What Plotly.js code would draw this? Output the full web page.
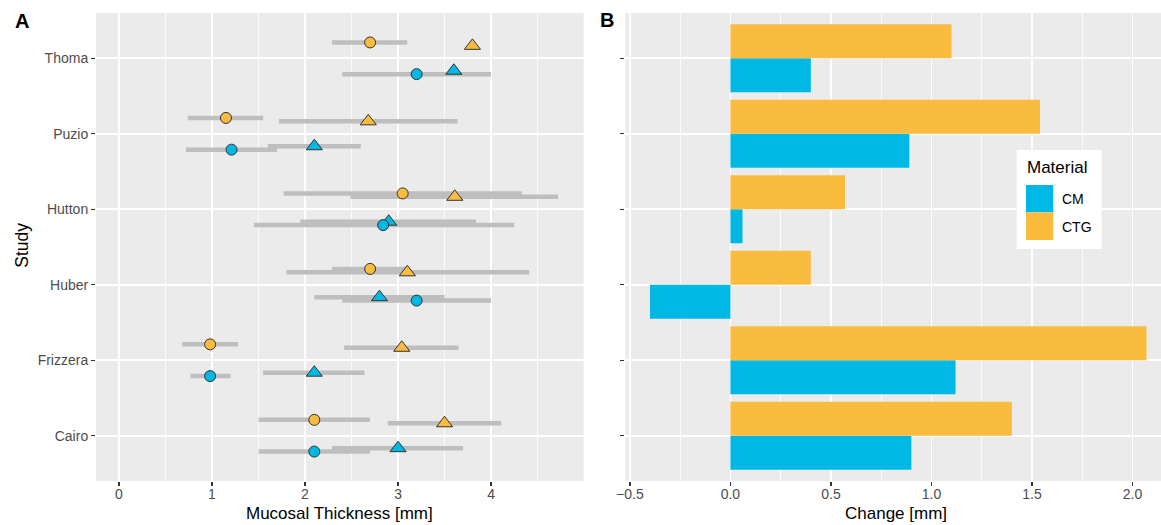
<!DOCTYPE html>
<html>
<head>
<meta charset="utf-8">
<script src="https://cdn.plot.ly/plotly-3.0.1.min.js"></script>
<style>html,body{margin:0;padding:0;background:#fff;}#chart{width:1161px;height:525px;}</style>
</head>
<body>
<div id="chart"></div>
<script>
// ---- data ----
const studies = ['Thoma', 'Puzio', 'Hutton', 'Huber', 'Frizzera', 'Cairo'];

// CTG, baseline (circles) and follow-up (triangles), with their interval ends
const ctgBase     = [2.70, 1.15, 3.05, 2.70, 0.98, 2.10];
const ctgBaseLo   = [2.29, 0.74, 1.77, 2.29, 0.68, 1.50];
const ctgBaseHi   = [3.10, 1.55, 4.33, 3.10, 1.28, 2.70];
const ctgFollow   = [3.80, 2.68, 3.61, 3.10, 3.04, 3.50];
const ctgFollowLo = [null, 1.72, 2.49, 1.80, 2.42, 2.89];
const ctgFollowHi = [null, 3.64, 4.72, 4.41, 3.65, 4.11];

// CM, baseline (circles) and follow-up (triangles)
const cmBase      = [3.20, 1.21, 2.84, 3.20, 0.98, 2.10];
const cmBaseLo    = [2.40, 0.72, 1.45, 2.40, 0.77, 1.50];
const cmBaseHi    = [4.00, 1.70, 4.25, 4.00, 1.20, 2.70];
const cmFollow    = [3.60, 2.10, 2.90, 2.80, 2.10, 3.00];
const cmFollowLo  = [null, 1.60, 1.95, 2.10, 1.55, 2.29];
const cmFollowHi  = [null, 2.60, 3.84, 3.50, 2.64, 3.70];

// Panel B: change [mm]
const changeCTG = [1.10, 1.54, 0.57, 0.40, 2.07, 1.40];
const changeCM  = [0.40, 0.89, 0.06, -0.40, 1.12, 0.90];

const materials = ['CM', 'CTG'];
const xTicksA = [0, 1, 2, 3, 4];

// ---- styling ----
const ORANGE = '#F9BC3F';
const BLUE = '#00B8E4';
const FONT = 'Liberation Sans, Arial, Helvetica, sans-serif';
const W = 1161, H = 525;
const px = v => v / W;
const py = v => 1 - v / H;

const yPos = studies.map((s, i) => studies.length - i);

function errTrace(mean, lo, hi, off) {
  return {
    type: 'scatter', mode: 'markers', xaxis: 'x', yaxis: 'y',
    x: mean, y: yPos.map(v => v + off),
    marker: {size: 1, color: 'rgba(0,0,0,0)'},
    error_x: {
      type: 'data', symmetric: false,
      array: hi.map((h, i) => h == null ? null : h - mean[i]),
      arrayminus: lo.map((l, i) => l == null ? null : mean[i] - l),
      color: '#BEBEBE', thickness: 4.5, width: 0
    },
    showlegend: false, hoverinfo: 'skip'
  };
}
function ptTrace(vals, off, color, symbol, size) {
  return {
    type: 'scatter', mode: 'markers', xaxis: 'x', yaxis: 'y',
    x: vals, y: yPos.map(v => v + off),
    marker: {color: color, symbol: symbol, size: size, line: {color: '#333333', width: 1}},
    showlegend: false, hoverinfo: 'skip'
  };
}

const oCircle = 0.21, oTri = 0.165;

const data = [
  errTrace(ctgBase, ctgBaseLo, ctgBaseHi, oCircle),
  errTrace(ctgFollow, ctgFollowLo, ctgFollowHi, oTri),
  errTrace(cmFollow, cmFollowLo, cmFollowHi, -oTri),
  errTrace(cmBase, cmBaseLo, cmBaseHi, -oCircle),
  ptTrace(ctgBase, oCircle, ORANGE, 'circle', 11),
  ptTrace(ctgFollow, oTri, ORANGE, 'triangle-up', 14),
  ptTrace(cmFollow, -oTri, BLUE, 'triangle-up', 14),
  ptTrace(cmBase, -oCircle, BLUE, 'circle', 11),
  {type: 'bar', orientation: 'h', xaxis: 'x2', yaxis: 'y2', name: materials[0],
   x: changeCM, y: studies, marker: {color: BLUE, line: {width: 0}}, showlegend: false, hoverinfo: 'skip'},
  {type: 'bar', orientation: 'h', xaxis: 'x2', yaxis: 'y2', name: materials[1],
   x: changeCTG, y: studies, marker: {color: ORANGE, line: {width: 0}}, showlegend: false, hoverinfo: 'skip'}
];

const tickFont = {family: FONT, size: 14, color: '#4D4D4D'};
const common = {
  ticks: 'outside', ticklen: 4, tickwidth: 1.4, tickcolor: '#333333',
  showgrid: true, gridcolor: '#FFFFFF', gridwidth: 1.6,
  zeroline: false, showline: false, tickfont: tickFont, fixedrange: true
};

const yDomain = [1 - 481 / H, 1 - 13 / H];

const layout = {
  width: W, height: H,
  margin: {l: 0, r: 0, t: 0, b: 0},
  paper_bgcolor: '#FFFFFF', plot_bgcolor: '#EBEBEB',
  barmode: 'group', bargap: 0.1, bargroupgap: 0,
  font: {family: FONT},
  xaxis: Object.assign({}, common, {
    domain: [px(96), px(583.6)], range: [-0.247, 4.995],
    tickmode: 'array', tickvals: xTicksA, ticklabelstandoff: -4,
    minor: {tickmode: 'linear', tick0: 0, dtick: 0.5, showgrid: true, gridcolor: '#FFFFFF', gridwidth: 0.8},
    anchor: 'y'
  }),
  yaxis: Object.assign({}, common, {
    domain: yDomain, range: [0.4, 6.6],
    tickmode: 'array', tickvals: yPos, ticktext: studies,
    anchor: 'x'
  }),
  xaxis2: Object.assign({}, common, {
    domain: [px(625.3), 1], range: [-0.523, 2.142],
    tickmode: 'linear', tick0: 0, dtick: 0.5, tickformat: '.1f', ticklabelstandoff: -4,
    minor: {tickmode: 'linear', tick0: 0, dtick: 0.25, showgrid: true, gridcolor: '#FFFFFF', gridwidth: 0.8},
    anchor: 'y2'
  }),
  yaxis2: Object.assign({}, common, {
    domain: yDomain, type: 'category', categoryorder: 'array',
    categoryarray: studies.slice().reverse(), range: [-0.6, 5.6],
    showticklabels: false, anchor: 'x2'
  }),
  shapes: [
    {type: 'rect', xref: 'paper', yref: 'paper', x0: px(1016.7), x1: px(1101.6), y0: py(249), y1: py(150),
     fillcolor: '#FFFFFF', line: {width: 0}, layer: 'above'},
    {type: 'rect', xref: 'paper', yref: 'paper', x0: px(1026), x1: px(1053.3), y0: py(212.3), y1: py(185),
     fillcolor: BLUE, line: {width: 0}, layer: 'above'},
    {type: 'rect', xref: 'paper', yref: 'paper', x0: px(1026), x1: px(1053.3), y0: py(240), y1: py(212.3),
     fillcolor: ORANGE, line: {width: 0}, layer: 'above'}
  ],
  annotations: [
    {text: '<b>A</b>', xref: 'paper', yref: 'paper', x: px(22), y: py(21), xanchor: 'center', yanchor: 'middle',
     showarrow: false, font: {family: FONT, size: 20, color: '#000'}},
    {text: '<b>B</b>', xref: 'paper', yref: 'paper', x: px(607), y: py(20), xanchor: 'center', yanchor: 'middle',
     showarrow: false, font: {family: FONT, size: 20, color: '#000'}},
    {text: 'Mucosal Thickness [mm]', xref: 'paper', yref: 'paper', x: px(339.8), y: py(513), xanchor: 'center', yanchor: 'middle',
     showarrow: false, font: {family: FONT, size: 17, color: '#000'}},
    {text: 'Change [mm]', xref: 'paper', yref: 'paper', x: px(896.4), y: py(513), xanchor: 'center', yanchor: 'middle',
     showarrow: false, font: {family: FONT, size: 17, color: '#000'}},
    {text: 'Study', xref: 'paper', yref: 'paper', x: px(21.7), y: py(245), xanchor: 'center', yanchor: 'middle', textangle: -90,
     showarrow: false, font: {family: FONT, size: 17.5, color: '#000'}},
    {text: 'Material', xref: 'paper', yref: 'paper', x: px(1025), y: py(167), xanchor: 'left', yanchor: 'middle',
     showarrow: false, font: {family: FONT, size: 17, color: '#000'}},
    {text: materials[0], xref: 'paper', yref: 'paper', x: px(1060), y: py(199), xanchor: 'left', yanchor: 'middle',
     showarrow: false, font: {family: FONT, size: 14, color: '#000'}},
    {text: materials[1], xref: 'paper', yref: 'paper', x: px(1060), y: py(226.5), xanchor: 'left', yanchor: 'middle',
     showarrow: false, font: {family: FONT, size: 14, color: '#000'}}
  ]
};

Plotly.newPlot('chart', data, layout, {staticPlot: true, displayModeBar: false});
</script>
</body>
</html>
